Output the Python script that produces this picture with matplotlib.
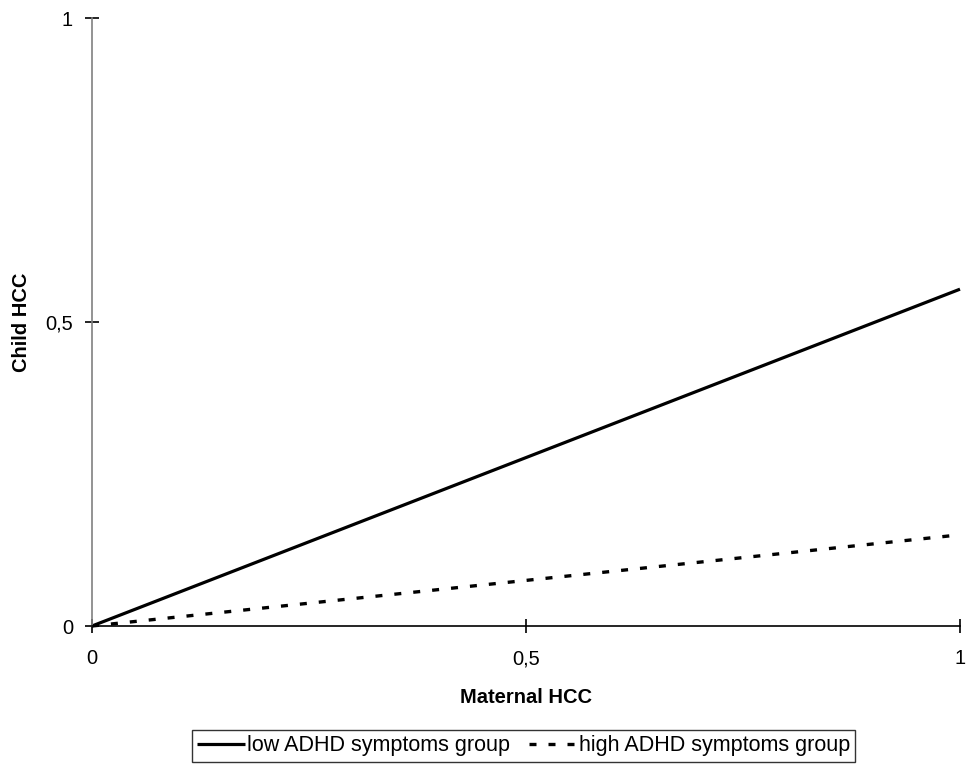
import matplotlib
matplotlib.use('Agg')
from matplotlib import pyplot as plt

# data
maternal_hcc = [0.0, 1.0]
child_low_adhd = [0.0, 0.554]
child_high_adhd = [0.0, 0.150]
tick_values = [0, 0.5, 1]
tick_labels = ['0', '0,5', '1']
series_names = ['low ADHD symptoms group', 'high ADHD symptoms group']

plt.rcParams['font.family'] = ['Liberation Sans', 'DejaVu Sans']

fig = plt.figure(figsize=(9.69, 7.64), dpi=100)
ax = fig.add_axes([92/969, 1-626/764, 868/969, 608/764])

ax.plot(maternal_hcc, child_low_adhd, color='black', lw=2.3, clip_on=False,
        solid_capstyle='butt', label=series_names[0])
ax.plot(maternal_hcc, child_high_adhd, color='black', lw=2.4, clip_on=False,
        linestyle=(0, (2.1, 3.6)), label=series_names[1])

ax.set_xlim(0, 1)
ax.set_ylim(0, 1)
ax.set_xticks(tick_values)
ax.set_xticklabels(tick_labels)
ax.set_yticks(tick_values)
ax.set_yticklabels(tick_labels)

for s in ['top', 'right']:
    ax.spines[s].set_visible(False)
ax.spines['left'].set_color('#808080')
ax.spines['bottom'].set_color('black')
ax.spines['left'].set_linewidth(1.2)
ax.spines['bottom'].set_linewidth(1.2)

ax.tick_params(axis='both', direction='inout', length=9.5, width=1.2,
               colors='black', labelsize=14.5)
ax.tick_params(axis='x', pad=12)
ax.tick_params(axis='y', pad=9)

ax.set_xlabel('Maternal HCC', fontsize=14.5, fontweight='bold')
ax.set_ylabel('Child HCC', fontsize=14.5, fontweight='bold')
ax.xaxis.set_label_coords(0.5, -0.102)
ax.yaxis.set_label_coords(-0.0703, 0.5)

leg = fig.legend(loc='center', bbox_to_anchor=(523.5/969, 1-746/764), ncol=2,
                 fontsize=15.5, frameon=True, fancybox=False, handlelength=2.2,
                 handletextpad=0.1, columnspacing=0.9, borderpad=0.25,
                 borderaxespad=0)
leg.get_frame().set_edgecolor('black')
leg.get_frame().set_linewidth(1.0)

fig.savefig('out.png', dpi=100)
